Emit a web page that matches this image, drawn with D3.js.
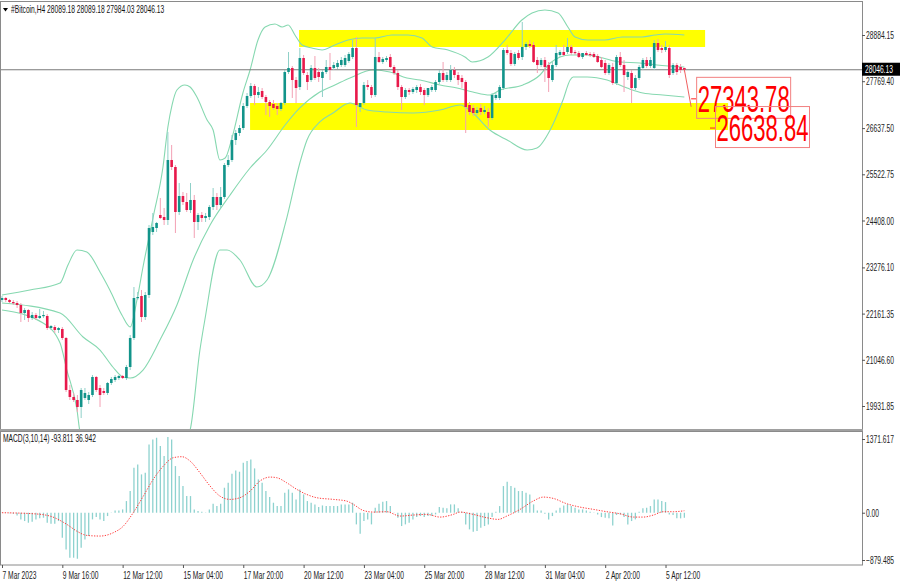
<!DOCTYPE html>
<html><head><meta charset="utf-8">
<script src="https://cdn.jsdelivr.net/npm/d3@7"></script>
<style>body{margin:0;background:#fff;} svg{display:block;font-family:"Liberation Sans",Arial,sans-serif;}</style>
</head><body><svg id="c" width="900" height="585"></svg>
<script>
const symbol = "#Bitcoin,H4";
const lastOHLC = [28089.18, 28089.18, 27984.03, 28046.13];
const open = [22490,22538,22490,22441,22417,22369,22176,22248,22055,22128,
22055,22104,22104,21814,21838,21766,21790,21573,20318,20149,
20077,19908,20125,20077,20197,20632,20366,20294,20246,20487,
20559,20607,20656,20607,20873,21573,22538,22586,22079,22610,
24131,24227,24541,24492,24420,25868,25699,24613,24999,24854,
24661,24903,24372,24541,24468,24492,24734,24975,24782,24975,
25747,25868,26350,26519,26640,27171,27412,27654,27436,27533,
27388,27267,27219,27171,27099,27243,27991,28088,27798,27629,
28329,27919,27798,28088,27991,27847,27991,28112,28088,28112,
28160,28160,28257,28353,28570,27147,27243,27678,27629,27436,
28353,28233,28281,28353,28112,27967,27629,27388,27557,27509,
27557,27629,27557,27436,27557,27557,27750,27967,27798,27798,
28040,27919,27847,27750,27195,27123,27002,27123,27026,27026,
26881,27364,27364,27605,28522,28450,28185,28450,28353,28595,
28667,28643,28281,28160,28281,28160,27798,28160,28402,28474,
28474,28595,28474,28450,28353,28450,28426,28426,28377,28281,
28209,27967,28112,27726,28353,28160,27871,27967,27605,27847,
28088,28281,28136,28088,28691,28570,28522,28570,27967,28160,
28112,28089.18];
const high = [22586,22562,22514,22490,22465,22417,22297,22272,22200,22176,
22272,22224,22152,21886,21886,21838,21838,21597,20439,20246,
20197,20366,20366,20270,20680,20656,20439,20366,20511,20632,
20680,20680,20680,20922,21645,22803,22683,22731,22683,24299,
24589,24372,24951,24710,26543,26230,25747,25313,25096,25072,
25313,25024,24589,24613,24589,24782,25192,25072,25216,25795,
25988,26471,26592,26712,27243,27485,27726,27702,27629,27605,
27436,27316,27316,27243,27267,28040,28474,28136,27871,28570,
28402,27991,28160,28377,28088,28040,28281,28450,28233,28281,
28353,28402,28474,28763,28836,27243,27750,27798,27678,28812,
28474,28353,28377,28426,28160,28040,27678,27605,27605,27629,
27678,27702,27605,27605,27678,27798,28040,28233,27991,28160,
28112,27991,27919,27798,27267,27195,27147,27219,27171,27123,
27485,27485,27678,28570,28643,28522,28474,28522,29198,28715,
28763,28715,28353,28329,28353,28233,28233,28643,28522,28643,
28812,28643,28522,28498,28450,28498,28474,28474,28426,28353,
28281,28209,28209,28402,28474,28281,28040,28040,27919,28160,
28329,28353,28353,28763,28787,28643,28739,28643,28209,28209,
28185,28089.18];
const low = [22441,22441,22417,22369,22297,21959,22007,21959,22007,22007,
22031,22055,21766,21766,21693,21693,21524,20270,20077,20028,
19787,19642,20077,19980,20149,20270,19908,20197,20197,20439,
20511,20559,20583,20559,20800,21524,22490,21959,22007,22538,
24058,24131,24444,24299,24299,25626,24106,24541,24782,24613,
24589,23986,24179,24372,24372,24420,24661,24661,24710,24927,
25699,25819,26230,26447,26592,27123,27364,27195,27364,27340,
26954,26906,27074,26954,27050,27195,27943,27364,27243,27557,
27919,27557,27750,27798,27750,27388,27943,27798,28040,28064,
28112,28112,28209,28305,26664,27026,27195,27557,27364,27388,
28209,28185,28233,28088,27919,27557,27074,27340,27436,27461,
27485,27436,27195,27388,27509,27509,27702,27750,27750,27750,
27847,27678,27605,26519,26954,26930,26954,26954,26978,26664,
26833,27316,27316,27557,28402,28136,28136,28281,28281,28522,
28570,28209,27967,28112,27750,27509,27750,28112,28353,28377,
28426,28402,28402,28329,28305,28377,28353,28329,28209,28088,
27919,27919,27678,27678,28112,27509,27798,27243,27557,27798,
28040,28088,28088,28040,28474,28450,28474,27847,27919,27919,
27967,27984.03];
const close = [22538,22490,22441,22417,22369,22176,22248,22055,22128,22055,
22104,22128,21814,21862,21766,21814,21573,20318,20149,20077,
19908,20318,20246,20197,20632,20318,20197,20246,20487,20583,
20632,20656,20607,20873,21573,22538,22562,22079,22610,24227,
24251,24348,24468,24420,25868,25699,24613,24999,24854,24661,
24903,24372,24541,24468,24517,24734,24975,24782,24975,25747,
25868,26350,26519,26640,27171,27412,27654,27436,27509,27388,
27267,27171,27123,27099,27243,27991,28088,27798,27605,28329,
27967,27750,28088,27847,27871,27991,28112,28040,28160,28209,
28281,28329,28426,28570,27195,27243,27678,27629,27436,28353,
28233,28305,28329,28112,27967,27629,27388,27557,27509,27581,
27629,27509,27436,27605,27629,27750,27967,27798,27919,28040,
27919,27798,27750,27147,27026,27002,27074,27026,27074,26881,
27436,27436,27629,28522,28450,28185,28426,28329,28595,28667,
28619,28233,28160,28281,28112,27847,28160,28450,28474,28402,
28595,28450,28450,28353,28450,28402,28402,28353,28233,28112,
27967,28160,27726,28353,28160,27919,27991,27605,27847,28112,
28281,28136,28281,28691,28522,28522,28595,27919,28160,27991,
28040,28046.13];

// Bollinger bands, read as [bar, price]
const bbUpper = [[0,22610],[7.4,22731],[15.4,22900],[17.5,23335],[19.9,23696],[22.5,23648],[26,23166],[28.6,22731],[31.8,22128],[34,21838],[35.8,22490],[37.4,23286],[40.1,24492],[42.7,25699],[44,26664],[45.1,27195],[46.4,27557],[48.5,27678],[49.9,27629],[51.7,27388],[54.4,26833],[56,26592],[57.8,25868],[59.2,25916],[61,26398],[63.9,27485],[65.8,28040],[67.9,28763],[69.8,29077],[72.4,29150],[74.3,29077],[75.9,29125],[77.7,28884],[79.6,28643],[82.2,28570],[84.9,28522],[88.3,28643],[91.8,28763],[95.5,28812],[98.9,28812],[103.4,28884],[107.7,28884],[111.4,28812],[114.1,28595],[118.3,28522],[122.8,28353],[124.7,28233],[128.9,28353],[133.4,28763],[137.9,29246],[140.6,29415],[144,29487],[147.5,29415],[150.1,29077],[152,28836],[155.4,28763],[159.9,28763],[164.5,28836],[169.8,28836],[173.2,28884],[175.9,28908],[181,28884]];
const bbMiddle = [[0,22417],[15.4,22176],[21.5,21597],[26,21283],[29.4,20873],[32.1,20632],[34,20607],[37.4,20800],[41.9,21524],[46.4,22369],[50.7,23455],[55.2,24299],[60.5,25024],[65.8,25675],[70.3,26109],[75.1,26712],[79,27123],[84.3,27509],[88.3,27678],[92.3,27847],[98.4,28040],[102.9,27991],[107.4,27847],[110.9,27798],[116.2,27678],[120.7,27605],[124.9,27509],[129.4,27436],[132.1,27557],[138.2,27678],[142.7,27919],[145.4,28209],[150.7,28402],[155.2,28402],[159.4,28329],[163.9,28233],[169.2,28209],[173.7,28160],[181,28112]];
const bbLower = [[0,22248],[10.9,21934],[15.4,21452],[17.2,20800],[19.9,19835],[20.7,19305],[26,18388],[39.3,18147],[48.5,19112],[49.9,19353],[52.5,21283],[53.8,22007],[57.8,23696],[59.7,23696],[63.1,23455],[67.6,22803],[70.3,22972],[75.6,24492],[79,25795],[80.9,26350],[84.3,26785],[87.8,27002],[92.3,27243],[96.8,27074],[102.1,27026],[109,27002],[116.2,27074],[121.5,27195],[124.9,27002],[129.4,26592],[134,26350],[139.3,26109],[141.9,26157],[145.4,26592],[148.8,27316],[150.7,27798],[151.5,27871],[155.2,27871],[160.5,27798],[165.8,27605],[170,27485],[175.3,27436],[181,27388]];

const macdHist = [5,3,-10,-20,-50,-124,-155,-186,-167,-124,
-105,-93,-186,-205,-205,-155,-465,-682,-837,-837,
-856,-651,-496,-434,-124,-81,-124,-155,-62,5,
43,43,62,217,403,837,899,713,744,1271,
1364,1395,1240,1054,1407,1364,868,682,496,310,
310,62,31,19,5,62,167,124,167,465,
558,725,787,763,930,961,992,825,620,558,
403,291,186,124,124,372,434,372,248,434,
341,217,186,155,105,136,124,124,124,124,
155,155,155,186,-217,-391,-155,-124,-217,93,
167,205,217,124,5,-93,-248,-217,-186,-124,
-81,-62,-81,-62,-62,-31,105,93,81,155,
155,81,19,-217,-310,-353,-341,-279,-248,-217,
-81,19,124,496,577,496,465,403,403,372,
341,155,43,43,-19,-124,-62,43,93,136,
155,124,93,62,62,43,19,-6,-31,-81,
-93,-105,-236,-43,-31,-81,-217,-155,-124,19,
81,93,124,248,248,217,198,-31,-43,-105,
-105,-93.811];
const macdSignal = [[0,0],[8.3,-19],[12.7,-62],[17.2,-217],[19.8,-341],[22.5,-422],[26,-434],[29.5,-372],[32.2,-248],[34.8,0],[37.5,310],[40.1,620],[42.8,868],[45.4,1023],[47.7,1042],[49.9,961],[52.5,744],[55.2,496],[57.8,310],[60.5,248],[63.1,279],[65.8,403],[68.4,589],[71.1,663],[72.9,651],[75.5,558],[78.2,434],[80.8,341],[83.5,279],[87.9,248],[91.4,217],[93.2,155],[95.8,43],[98.5,12],[102,19],[105.6,-62],[109.1,-43],[112.7,-31],[116.2,-81],[119.7,-31],[121.5,12],[125,-31],[128.6,-93],[131.6,-124],[133.9,-62],[137.4,62],[140.9,217],[143.6,291],[146.2,267],[149.8,167],[153.3,105],[156.9,62],[160.4,19],[163.9,-19],[167.5,-81],[170.1,-81],[172.8,-43],[175.4,19],[178.1,19],[181,36.942]];
const macdParams = "MACD(3,10,14)";

const priceTicks = [28884.15,27769.40,26637.50,25522.75,24408.00,23276.10,22161.35,21046.60,19931.85];
const macdTicks = [1371.617,0,-879.485];
const timeLabels = ["7 Mar 2023","9 Mar 16:00","12 Mar 12:00","15 Mar 04:00","17 Mar 20:00","20 Mar 12:00","23 Mar 04:00","25 Mar 20:00","28 Mar 12:00","31 Mar 04:00","2 Apr 20:00","5 Apr 12:00"];
const timeLabelBars = [0,16,32,48,64,80,96,112,128,144,160,176];

// yellow zones: bar range and price range
const zoneBars = [[78.8,186.5],[65.8,192.6]];
const zonePrices = [[28595,29005],[26592,27243]];
const targets = [27343.78, 26638.84];
const targetBars = [182.8, 187.8];

const svg = d3.select('#c');
const W = 900, H = 585, R = 862;
const x = d3.scaleLinear().domain([0,181]).range([2, 2+181*3.77]);
const y = d3.scaleLinear().domain([19931.85, 28884.15]).range([406, 35]);
const ym = d3.scaleLinear().domain([-879.485, 1371.617]).range([560, 439]);
const SX = 0.67;

svg.append('rect').attr('width',W).attr('height',H).attr('fill','#fff');
const defs = svg.append('defs');
defs.append('clipPath').attr('id','mainClip').append('rect').attr('x',1).attr('y',2).attr('width',R-1).attr('height',427);
defs.append('clipPath').attr('id','macdClip').append('rect').attr('x',1).attr('y',432).attr('width',R-1).attr('height',133);

const main = svg.append('g').attr('clip-path','url(#mainClip)');

// zones
zoneBars.forEach((b,k)=>{
  main.append('rect').attr('x',x(b[0])).attr('width',x(b[1])-x(b[0]))
    .attr('y',y(zonePrices[k][1])).attr('height',y(zonePrices[k][0])-y(zonePrices[k][1]))
    .attr('fill','#ffff00');
});

// bollinger
const bbLine = d3.line().x(d=>x(d[0])).y(d=>y(d[1])).curve(d3.curveMonotoneX);
[bbUpper,bbMiddle,bbLower].forEach(s=>{
  main.append('path').attr('d',bbLine(s)).attr('fill','none').attr('stroke','#86d8b0').attr('stroke-width',1.1);
});

// current price line
main.append('line').attr('x1',0).attr('x2',R).attr('y1',y(lastOHLC[3])).attr('y2',y(lastOHLC[3]))
  .attr('stroke','#7a7a7a').attr('stroke-width',1.2);

// candles
const idx = d3.range(close.length);
const cg = main.append('g');
cg.selectAll('line.w').data(idx).join('line').attr('class','w')
  .attr('x1',i=>x(i)).attr('x2',i=>x(i)).attr('y1',i=>y(high[i])).attr('y2',i=>y(low[i]))
  .attr('stroke',i=>close[i]>=open[i]?'#8fd0c8':'#f3a0b4').attr('stroke-width',1);
cg.selectAll('rect.b').data(idx).join('rect').attr('class','b')
  .attr('x',i=>x(i)-1.3).attr('width',2.6)
  .attr('y',i=>y(Math.max(open[i],close[i])))
  .attr('height',i=>Math.max(1.2, Math.abs(y(open[i])-y(close[i]))))
  .attr('fill',i=>close[i]>=open[i]?'#12948a':'#e8194b');

// red projection line
const last = close.length-1;
svg.append('line').attr('x1',x(last)).attr('y1',y(close[last])).attr('x2',x(targetBars[0])).attr('y2',y(targets[0])+8)
  .attr('stroke','#f06060').attr('stroke-width',1);

// target labels
targets.forEach((t,k)=>{
  const tx = x(targetBars[k]), ty = y(t);
  svg.append('line').attr('x1',tx).attr('x2',tx+5).attr('y1',ty).attr('y2',ty).attr('stroke','#ff2020').attr('stroke-width',1);
  svg.append('rect').attr('x',tx+5.5).attr('y',ty-21.5).attr('width',94).attr('height',41)
    .attr('fill','none').attr('stroke','#f28080').attr('stroke-width',1);
  svg.append('text').attr('transform',`translate(${tx+6.5},${ty+12.7}) scale(0.613,1)`)
    .attr('font-size',36).attr('fill','#ff0000').text(t.toFixed(2));
});

// frames
svg.append('rect').attr('x',0.5).attr('y',1.5).attr('width',R).attr('height',428).attr('fill','none').attr('stroke','#8a8a8a');
svg.append('rect').attr('x',0).attr('y',429).attr('width',R+1).attr('height',3).attr('fill','#a0a0a0');
svg.append('rect').attr('x',0.5).attr('y',431.5).attr('width',R).attr('height',133.5).attr('fill','none').attr('stroke','#8a8a8a');

// MACD
const mg = svg.append('g').attr('clip-path','url(#macdClip)');
mg.selectAll('line.h').data(idx).join('line').attr('class','h')
  .attr('x1',i=>x(i)).attr('x2',i=>x(i)).attr('y1',ym(0)).attr('y2',i=>ym(macdHist[i]))
  .attr('stroke','#8ed2cf').attr('stroke-width',1.3);
mg.append('path').attr('d', d3.line().x(d=>x(d[0])).y(d=>ym(d[1])).curve(d3.curveMonotoneX)(macdSignal))
  .attr('fill','none').attr('stroke','#ff3b3b').attr('stroke-width',1).attr('stroke-dasharray','1.3,1.4');

function condense(sel, dx, dy){
  sel.attr('x',0).attr('y',0).attr('dy',null).attr('transform',`translate(${dx},${dy}) scale(${SX},1)`);
}

// price axis
const pa = svg.append('g').attr('transform',`translate(${R},0)`)
  .call(d3.axisRight(y).tickValues(priceTicks).tickSize(3).tickFormat(d3.format('.2f')));
pa.select('.domain').remove();
pa.selectAll('.tick line').attr('stroke','#555');
pa.selectAll('.tick text').attr('font-size',10).attr('font-family','Liberation Sans, Arial').attr('fill','#222').attr('text-anchor','start').call(condense,4,3.5);

// macd axis
const ma = svg.append('g').attr('transform',`translate(${R},0)`)
  .call(d3.axisRight(ym).tickValues(macdTicks).tickSize(3).tickFormat(d=>d===0?'0.00':d3.format('.3f')(d)));
ma.select('.domain').remove();
ma.selectAll('.tick line').attr('stroke','#555');
ma.selectAll('.tick text').attr('font-size',10).attr('font-family','Liberation Sans, Arial').attr('fill','#222').attr('text-anchor','start').call(condense,4,3.5);

// current price tag
const cy = y(lastOHLC[3]);
svg.append('rect').attr('x',R).attr('y',cy-7).attr('width',38).attr('height',13).attr('fill','#000');
svg.append('text').attr('transform',`translate(${R+3},${cy+3.5}) scale(${SX},1)`).attr('font-size',10).attr('fill','#fff').text(lastOHLC[3].toFixed(2));

// time axis
const ta = svg.append('g').attr('transform','translate(0,565)')
  .call(d3.axisBottom(x).tickValues(timeLabelBars).tickSize(3).tickFormat((d,i)=>timeLabels[i]));
ta.select('.domain').remove();
ta.selectAll('.tick line').attr('stroke','#555');
ta.selectAll('.tick text').attr('font-size',10).attr('font-family','Liberation Sans, Arial').attr('fill','#222').attr('text-anchor','start').call(condense,0,13.5);

// header
svg.append('path').attr('d','M3,8 L8,8 L5.5,11.5 Z').attr('fill','#000');
svg.append('text').attr('transform',`translate(11,13) scale(${SX},1)`).attr('font-size',10).attr('fill','#111')
  .text(symbol + '  ' + lastOHLC.map(v=>v.toFixed(2)).join(' '));
// macd label
svg.append('text').attr('transform',`translate(3,442) scale(${SX},1)`).attr('font-size',10).attr('fill','#111')
  .text(macdParams + ' ' + macdHist[last].toFixed(3) + ' ' + macdSignal[macdSignal.length-1][1].toFixed(3));
</script></body></html>
